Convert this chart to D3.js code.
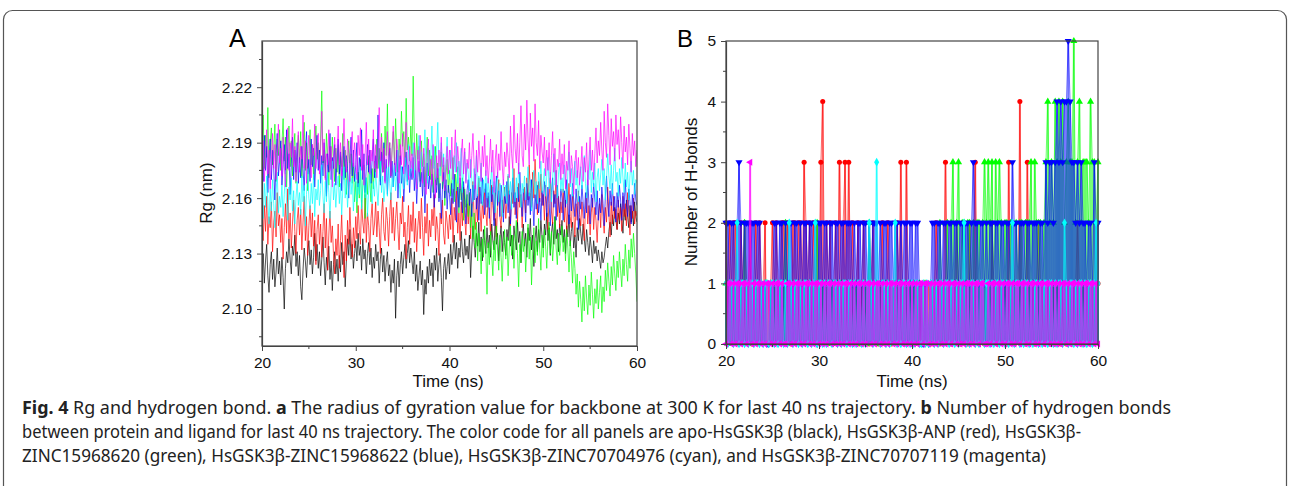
<!DOCTYPE html>
<html>
<head>
<meta charset="utf-8">
<title>Rg and hydrogen bond</title>
<script src="https://cdn.jsdelivr.net/npm/d3@7"></script>
<style>
  body { margin: 0; background: #fff; }
  svg { display: block; }
</style>
</head>
<body>
<div id="chart"></div>
<script>
// ---- data ----
// panel A: Rg (nm), one sample every 0.125 ns from 20 to 60 ns (16 per row = 2 ns)
var rgStart = 20, rgStep = 0.125;
var rgBlack = [
  2.121,2.130,2.114,2.126,2.135,2.118,2.109,2.124,2.131,2.116,2.127,2.112,2.120,2.133,2.119,2.126,
  2.113,2.128,2.117,2.100,2.122,2.131,2.125,2.138,2.127,2.119,2.134,2.129,2.140,2.123,2.131,2.118,
  2.129,2.112,2.105,2.121,2.133,2.126,2.117,2.130,2.137,2.124,2.132,2.119,2.128,2.141,2.126,2.135,
  2.122,2.131,2.118,2.127,2.139,2.125,2.113,2.128,2.121,2.134,2.116,2.126,2.110,2.124,2.131,2.119,
  2.127,2.115,2.129,2.120,2.136,2.124,2.131,2.112,2.126,2.138,2.129,2.143,2.127,2.135,2.122,2.130,
  2.137,2.126,2.141,2.129,2.134,2.121,2.138,2.127,2.132,2.119,2.130,2.136,2.124,2.133,2.117,2.128,
  2.122,2.135,2.126,2.131,2.114,2.127,2.133,2.120,2.129,2.115,2.125,2.131,2.118,2.124,2.109,2.121,
  2.114,2.127,2.095,2.118,2.126,2.112,2.124,2.131,2.119,2.128,2.135,2.122,2.130,2.137,2.125,2.133,
  2.126,2.119,2.131,2.115,2.124,2.110,2.118,2.126,2.113,2.121,2.097,2.116,2.108,2.123,2.114,2.127,
  2.118,2.125,2.112,2.129,2.121,2.133,2.115,2.124,2.130,2.117,2.099,2.122,2.128,2.116,2.123,2.130,
  2.119,2.135,2.124,2.131,2.140,2.127,2.136,2.122,2.133,2.128,2.142,2.131,2.125,2.138,2.129,2.134,
  2.127,2.140,2.117,2.132,2.145,2.136,2.128,2.141,2.134,2.147,2.131,2.139,2.126,2.143,2.137,2.130,
  2.144,2.133,2.140,2.128,2.146,2.137,2.132,2.149,2.135,2.141,2.126,2.138,2.145,2.131,2.142,2.136,
  2.129,2.143,2.137,2.150,2.134,2.140,2.127,2.145,2.138,2.132,2.147,2.136,2.142,2.125,2.139,2.146,
  2.134,2.141,2.128,2.144,2.137,2.149,2.132,2.140,2.123,2.138,2.145,2.131,2.143,2.136,2.148,2.139,
  2.133,2.146,2.140,2.152,2.137,2.144,2.129,2.141,2.147,2.135,2.150,2.138,2.143,2.131,2.146,2.140,
  2.148,2.136,2.143,2.130,2.145,2.139,2.151,2.134,2.142,2.147,2.133,2.140,2.128,2.144,2.137,2.149,
  2.141,2.135,2.146,2.138,2.131,2.143,2.136,2.129,2.139,2.133,2.125,2.137,2.130,2.134,2.126,2.132,
  2.127,2.122,2.131,2.125,2.128,2.134,2.139,2.133,2.142,2.147,2.140,2.151,2.145,2.155,2.148,2.143,
  2.152,2.146,2.157,2.149,2.141,2.154,2.148,2.159,2.150,2.144,2.156,2.147,2.153,2.145,2.158,2.150,
  2.147];
var rgRed = [
  2.148,2.137,2.156,2.142,2.161,2.135,2.150,2.144,2.158,2.131,2.147,2.153,2.139,2.163,2.145,2.151,
  2.136,2.149,2.127,2.144,2.157,2.141,2.165,2.138,2.152,2.133,2.146,2.159,2.142,2.130,2.148,2.155,
  2.140,2.154,2.132,2.147,2.161,2.137,2.150,2.129,2.145,2.156,2.139,2.152,2.134,2.148,2.124,2.143,
  2.151,2.135,2.146,2.128,2.142,2.157,2.133,2.149,2.121,2.140,2.153,2.136,2.145,2.130,2.119,2.138,
  2.129,2.146,2.122,2.137,2.151,2.131,2.117,2.140,2.126,2.148,2.135,2.155,2.139,2.128,2.144,2.133,
  2.150,2.138,2.156,2.143,2.135,2.159,2.147,2.141,2.162,2.136,2.152,2.145,2.131,2.149,2.157,2.140,
  2.146,2.158,2.139,2.153,2.144,2.130,2.151,2.160,2.142,2.137,2.155,2.148,2.134,2.150,2.163,2.141,
  2.155,2.137,2.149,2.158,2.143,2.132,2.152,2.146,2.161,2.139,2.147,2.127,2.144,2.156,2.135,2.151,
  2.142,2.158,2.136,2.149,2.131,2.145,2.153,2.138,2.160,2.144,2.129,2.150,2.141,2.157,2.134,2.148,
  2.139,2.154,2.145,2.162,2.137,2.150,2.143,2.129,2.152,2.146,2.159,2.140,2.135,2.153,2.147,2.138,
  2.151,2.143,2.160,2.136,2.155,2.148,2.164,2.141,2.152,2.137,2.158,2.145,2.166,2.149,2.140,2.157,
  2.146,2.162,2.138,2.155,2.169,2.150,2.143,2.160,2.147,2.171,2.154,2.142,2.158,2.149,2.165,2.152,
  2.145,2.161,2.153,2.140,2.167,2.156,2.148,2.163,2.139,2.155,2.170,2.150,2.144,2.159,2.152,2.166,
  2.149,2.158,2.172,2.154,2.145,2.163,2.157,2.176,2.151,2.160,2.147,2.168,2.155,2.162,2.144,2.158,
  2.166,2.152,2.171,2.159,2.178,2.163,2.155,2.174,2.160,2.181,2.165,2.151,2.169,2.158,2.173,2.156,
  2.162,2.148,2.167,2.155,2.143,2.160,2.171,2.153,2.146,2.164,2.157,2.175,2.150,2.161,2.144,2.158,
  2.152,2.165,2.147,2.159,2.141,2.156,2.168,2.150,2.144,2.162,2.153,2.139,2.157,2.148,2.164,2.151,
  2.145,2.158,2.149,2.137,2.154,2.163,2.146,2.156,2.140,2.152,2.160,2.143,2.155,2.148,2.136,2.151,
  2.157,2.144,2.162,2.150,2.141,2.155,2.147,2.166,2.152,2.139,2.158,2.146,2.161,2.149,2.154,2.143,
  2.159,2.148,2.155,2.142,2.161,2.150,2.157,2.145,2.163,2.152,2.140,2.156,2.149,2.160,2.146,2.153,
  2.150];
var rgGreen = [
  2.188,2.205,2.176,2.194,2.182,2.209,2.171,2.190,2.198,2.178,2.186,2.200,2.169,2.192,2.183,2.197,
  2.175,2.189,2.203,2.180,2.193,2.166,2.185,2.199,2.177,2.191,2.172,2.186,2.195,2.168,2.182,2.194,
  2.179,2.196,2.171,2.187,2.201,2.175,2.190,2.164,2.183,2.197,2.178,2.189,2.170,2.186,2.199,2.181,
  2.190,2.176,2.192,2.218,2.179,2.186,2.171,2.195,2.183,2.167,2.188,2.176,2.193,2.180,2.169,2.187,
  2.174,2.189,2.166,2.183,2.177,2.195,2.170,2.186,2.162,2.180,2.191,2.173,2.184,2.168,2.179,2.158,
  2.169,2.152,2.174,2.160,2.181,2.155,2.166,2.178,2.149,2.171,2.162,2.183,2.168,2.158,2.176,2.165,
  2.180,2.171,2.192,2.176,2.187,2.169,2.195,2.181,2.174,2.199,2.183,2.211,2.178,2.190,2.172,2.186,
  2.196,2.179,2.203,2.185,2.174,2.192,2.181,2.207,2.188,2.196,2.177,2.214,2.186,2.193,2.180,2.199,
  2.183,2.226,2.190,2.174,2.195,2.181,2.188,2.169,2.191,2.177,2.184,2.166,2.180,2.193,2.172,2.186,
  2.170,2.183,2.163,2.177,2.188,2.167,2.179,2.160,2.174,2.185,2.165,2.178,2.156,2.172,2.181,2.163,
  2.175,2.161,2.170,2.182,2.158,2.173,2.164,2.177,2.152,2.168,2.159,2.171,2.148,2.165,2.155,2.162,
  2.150,2.163,2.144,2.157,2.138,2.152,2.133,2.147,2.126,2.141,2.135,2.119,2.138,2.128,2.145,2.131,
  2.108,2.136,2.124,2.142,2.129,2.118,2.137,2.126,2.145,2.132,2.121,2.140,2.128,2.115,2.134,2.143,
  2.127,2.139,2.118,2.133,2.145,2.129,2.140,2.122,2.136,2.148,2.130,2.112,2.135,2.125,2.142,2.131,
  2.138,2.120,2.133,2.146,2.127,2.139,2.113,2.131,2.144,2.125,2.137,2.129,2.149,2.132,2.121,2.140,
  2.128,2.143,2.134,2.122,2.139,2.147,2.130,2.142,2.126,2.136,2.150,2.133,2.124,2.141,2.129,2.137,
  2.145,2.131,2.139,2.126,2.143,2.133,2.120,2.137,2.128,2.114,2.131,2.122,2.108,2.119,2.101,2.115,
  2.105,2.093,2.112,2.099,2.118,2.106,2.097,2.113,2.102,2.120,2.108,2.095,2.111,2.103,2.116,2.100,
  2.109,2.118,2.098,2.112,2.104,2.121,2.110,2.125,2.115,2.107,2.123,2.113,2.129,2.119,2.110,2.126,
  2.117,2.131,2.121,2.112,2.127,2.118,2.135,2.124,2.115,2.132,2.122,2.138,2.128,2.141,2.130,2.119,
  2.104];
var rgBlue = [
  2.183,2.169,2.194,2.175,2.188,2.163,2.181,2.192,2.170,2.186,2.176,2.159,2.184,2.195,2.172,2.180,
  2.191,2.167,2.178,2.189,2.173,2.197,2.176,2.184,2.162,2.179,2.193,2.170,2.186,2.174,2.190,2.168,
  2.182,2.171,2.188,2.176,2.164,2.185,2.196,2.173,2.181,2.169,2.192,2.177,2.187,2.166,2.180,2.194,
  2.175,2.186,2.168,2.183,2.172,2.190,2.179,2.161,2.184,2.174,2.195,2.170,2.182,2.176,2.189,2.167,
  2.180,2.192,2.173,2.185,2.164,2.179,2.188,2.171,2.183,2.176,2.160,2.181,2.193,2.172,2.186,2.169,
  2.178,2.190,2.166,2.182,2.175,2.197,2.170,2.184,2.163,2.177,2.189,2.174,2.186,2.168,2.181,2.192,
  2.171,2.183,2.176,2.205,2.179,2.167,2.185,2.174,2.190,2.169,2.181,2.162,2.178,2.187,2.171,2.180,
  2.166,2.179,2.172,2.186,2.160,2.175,2.183,2.168,2.177,2.158,2.172,2.185,2.169,2.178,2.163,2.176,
  2.170,2.182,2.164,2.175,2.157,2.171,2.180,2.166,2.174,2.161,2.177,2.152,2.169,2.179,2.165,2.172,
  2.160,2.173,2.166,2.155,2.171,2.163,2.176,2.158,2.168,2.149,2.165,2.174,2.160,2.170,2.154,2.167,
  2.162,2.151,2.168,2.157,2.173,2.160,2.147,2.166,2.155,2.171,2.163,2.152,2.169,2.158,2.146,2.164,
  2.170,2.156,2.165,2.150,2.167,2.159,2.173,2.154,2.162,2.148,2.166,2.157,2.171,2.160,2.151,2.168,
  2.155,2.163,2.149,2.170,2.158,2.166,2.145,2.161,2.172,2.156,2.164,2.150,2.167,2.159,2.147,2.162,
  2.157,2.169,2.152,2.164,2.146,2.160,2.171,2.155,2.163,2.149,2.166,2.158,2.174,2.161,2.150,2.165,
  2.159,2.147,2.168,2.156,2.163,2.151,2.170,2.158,2.145,2.162,2.154,2.167,2.152,2.160,2.148,2.164,
  2.156,2.169,2.161,2.150,2.166,2.157,2.145,2.163,2.171,2.155,2.162,2.148,2.167,2.158,2.152,2.165,
  2.160,2.148,2.164,2.155,2.170,2.157,2.146,2.162,2.153,2.168,2.159,2.150,2.165,2.156,2.143,2.161,
  2.154,2.167,2.158,2.149,2.163,2.152,2.170,2.157,2.146,2.162,2.155,2.168,2.159,2.151,2.164,2.148,
  2.160,2.152,2.166,2.157,2.145,2.161,2.172,2.158,2.150,2.164,2.156,2.168,2.153,2.161,2.147,2.163,
  2.155,2.167,2.159,2.148,2.163,2.154,2.170,2.157,2.150,2.165,2.158,2.146,2.162,2.153,2.168,2.159,
  2.156];
var rgCyan = [
  2.160,2.149,2.168,2.155,2.172,2.158,2.146,2.165,2.153,2.170,2.157,2.144,2.163,2.174,2.152,2.161,
  2.155,2.167,2.150,2.162,2.175,2.157,2.148,2.166,2.159,2.171,2.153,2.164,2.146,2.160,2.169,2.156,
  2.163,2.151,2.172,2.158,2.167,2.145,2.162,2.176,2.160,2.154,2.168,2.157,2.173,2.150,2.165,2.159,
  2.170,2.156,2.164,2.178,2.161,2.152,2.169,2.158,2.174,2.163,2.149,2.166,2.180,2.159,2.168,2.155,
  2.166,2.172,2.157,2.168,2.151,2.165,2.177,2.160,2.170,2.155,2.167,2.179,2.162,2.171,2.153,2.164,
  2.173,2.158,2.168,2.162,2.177,2.154,2.166,2.175,2.160,2.171,2.150,2.164,2.178,2.163,2.157,2.169,
  2.161,2.174,2.165,2.156,2.170,2.181,2.163,2.172,2.158,2.167,2.176,2.161,2.183,2.168,2.159,2.171,
  2.166,2.178,2.164,2.173,2.186,2.169,2.160,2.177,2.171,2.165,2.182,2.174,2.167,2.189,2.172,2.180,
  2.175,2.190,2.171,2.183,2.166,2.179,2.194,2.176,2.185,2.170,2.181,2.197,2.178,2.168,2.187,2.174,
  2.182,2.199,2.176,2.188,2.170,2.185,2.201,2.179,2.172,2.190,2.177,2.184,2.167,2.181,2.193,2.175,
  2.170,2.186,2.178,2.165,2.183,2.174,2.190,2.168,2.180,2.172,2.187,2.163,2.177,2.185,2.169,2.179,
  2.173,2.164,2.181,2.170,2.158,2.176,2.167,2.183,2.161,2.172,2.166,2.179,2.156,2.170,2.163,2.175,
  2.160,2.171,2.155,2.167,2.177,2.162,2.169,2.152,2.166,2.174,2.158,2.168,2.163,2.150,2.170,2.161,
  2.167,2.157,2.173,2.162,2.169,2.154,2.176,2.164,2.158,2.171,2.160,2.179,2.165,2.155,2.168,2.163,
  2.172,2.159,2.166,2.177,2.161,2.170,2.153,2.168,2.175,2.162,2.169,2.157,2.174,2.165,2.180,2.163,
  2.168,2.176,2.161,2.172,2.182,2.165,2.174,2.158,2.170,2.184,2.167,2.175,2.160,2.173,2.179,2.164,
  2.171,2.163,2.178,2.168,2.157,2.174,2.185,2.166,2.176,2.161,2.172,2.180,2.167,2.175,2.158,2.170,
  2.177,2.165,2.172,2.183,2.168,2.160,2.175,2.170,2.186,2.163,2.174,2.166,2.179,2.158,2.171,2.176,
  2.164,2.173,2.181,2.167,2.176,2.159,2.170,2.184,2.172,2.165,2.178,2.162,2.175,2.187,2.169,2.174,
  2.161,2.176,2.168,2.182,2.171,2.163,2.179,2.166,2.174,2.159,2.172,2.180,2.167,2.175,2.162,2.170,
  2.168];
var rgMagenta = [
  2.178,2.191,2.169,2.184,2.197,2.173,2.186,2.165,2.180,2.195,2.176,2.189,2.170,2.183,2.200,2.179,
  2.187,2.172,2.193,2.178,2.166,2.185,2.198,2.175,2.190,2.182,2.203,2.177,2.188,2.169,2.184,2.196,
  2.174,2.188,2.181,2.205,2.176,2.191,2.168,2.185,2.194,2.179,2.171,2.189,2.183,2.200,2.176,2.187,
  2.195,2.173,2.186,2.207,2.180,2.192,2.170,2.184,2.178,2.197,2.175,2.188,2.166,2.182,2.193,2.176,
  2.185,2.199,2.178,2.190,2.172,2.186,2.203,2.181,2.174,2.192,2.184,2.169,2.188,2.196,2.177,2.190,
  2.182,2.170,2.194,2.183,2.198,2.175,2.189,2.167,2.184,2.201,2.178,2.192,2.173,2.186,2.180,2.197,
  2.176,2.189,2.171,2.185,2.209,2.180,2.193,2.174,2.187,2.168,2.183,2.196,2.177,2.190,2.172,2.186,
  2.199,2.181,2.174,2.192,2.185,2.168,2.189,2.178,2.195,2.173,2.186,2.201,2.180,2.170,2.188,2.176,
  2.184,2.171,2.190,2.179,2.165,2.186,2.174,2.194,2.180,2.168,2.187,2.176,2.162,2.183,2.192,2.172,
  2.181,2.167,2.189,2.175,2.160,2.183,2.171,2.186,2.177,2.193,2.169,2.182,2.164,2.178,2.188,2.173,
  2.186,2.176,2.193,2.170,2.182,2.197,2.174,2.188,2.179,2.165,2.184,2.192,2.173,2.187,2.168,2.181,
  2.176,2.190,2.171,2.183,2.195,2.178,2.165,2.186,2.174,2.191,2.180,2.169,2.188,2.177,2.194,2.172,
  2.183,2.168,2.179,2.192,2.174,2.186,2.163,2.180,2.189,2.171,2.184,2.175,2.196,2.178,2.167,2.185,
  2.177,2.190,2.182,2.171,2.199,2.184,2.176,2.205,2.187,2.179,2.195,2.173,2.190,2.210,2.183,2.177,
  2.200,2.186,2.213,2.192,2.178,2.206,2.188,2.198,2.180,2.211,2.190,2.183,2.202,2.176,2.194,2.185,
  2.179,2.193,2.172,2.186,2.175,2.190,2.168,2.183,2.196,2.174,2.187,2.166,2.181,2.177,2.192,2.170,
  2.184,2.173,2.189,2.165,2.180,2.175,2.191,2.168,2.183,2.177,2.162,2.179,2.186,2.171,2.182,2.167,
  2.176,2.188,2.169,2.182,2.174,2.190,2.167,2.181,2.193,2.175,2.186,2.170,2.184,2.198,2.179,2.191,
  2.183,2.201,2.186,2.175,2.207,2.190,2.182,2.211,2.194,2.178,2.203,2.188,2.196,2.180,2.205,2.189,
  2.197,2.181,2.204,2.190,2.176,2.199,2.185,2.193,2.178,2.200,2.187,2.174,2.195,2.183,2.191,2.177,
  2.186];

// panel B: number of H-bonds, one sample every 0.2 ns from 20 to 60 ns (20 per row = 4 ns)
var hbStart = 20, hbStep = 0.2;
var hbRed = [2,1,2,1,2,2,1,0,2,1,2,1,1,2,0,1,2,1,2,1,
  1,2,0,1,1,2,1,2,1,1,2,2,1,2,1,0,2,2,1,2,
  2,1,3,2,1,2,1,2,1,2,1,3,4,1,2,1,2,0,1,2,
  1,3,1,2,3,1,3,1,2,1,1,2,0,1,2,1,1,0,1,2,
  1,1,0,1,2,1,1,2,1,0,1,1,2,1,3,1,0,3,1,1,
  1,0,1,1,0,0,1,0,1,1,0,1,1,2,1,0,1,1,3,1,
  1,0,1,1,2,1,0,1,1,1,0,2,1,1,3,1,0,1,1,0,
  1,1,0,2,1,1,0,1,1,1,1,0,3,1,1,0,1,1,4,1,
  1,0,3,1,1,1,0,1,2,1,1,0,1,1,0,1,1,0,1,1,
  0,1,1,0,1,1,0,1,1,2,1,0,1,1,0,1,1,0,1,1,1];
var hbGreen = [1,0,1,1,0,1,0,1,1,0,2,1,0,1,1,0,1,0,1,1,
  0,1,1,0,1,0,1,1,0,1,0,1,2,0,1,1,0,1,0,1,
  1,0,1,0,1,1,0,1,0,2,1,0,1,1,0,1,0,1,1,0,
  1,0,1,1,0,1,0,1,0,1,1,0,1,0,1,1,0,2,1,0,
  0,1,1,0,1,0,1,1,0,1,0,1,0,1,1,0,1,0,1,1,
  0,1,0,1,1,0,0,1,0,0,1,1,0,1,1,2,1,0,1,2,
  1,2,3,1,2,3,1,2,2,1,2,2,1,2,1,2,2,1,2,3,
  2,3,2,3,1,3,2,3,2,1,2,2,1,2,2,1,2,1,2,2,
  1,2,2,2,3,1,3,2,2,2,1,2,3,4,2,3,2,4,3,4,
  3,4,2,3,4,3,3,5,2,3,4,2,3,3,3,2,4,3,3,2,3];
var hbBlue = [2,2,1,2,2,1,2,3,2,1,2,2,2,1,2,2,1,2,2,1,
  1,1,0,0,1,1,2,2,1,2,2,1,2,1,2,2,1,2,2,1,
  2,1,2,2,1,2,2,1,2,0,2,2,1,2,2,1,2,2,1,2,
  2,1,2,2,1,2,2,2,1,2,1,2,2,1,2,2,1,2,1,2,
  2,2,1,2,1,2,2,1,2,2,1,2,2,1,2,1,2,2,1,2,
  2,1,2,2,1,1,0,1,1,0,1,2,2,1,2,2,1,2,2,1,
  2,2,1,2,2,1,2,2,1,2,2,1,2,3,2,2,1,2,2,1,
  2,1,2,2,1,2,2,1,2,2,1,2,2,1,3,2,2,1,2,2,
  2,1,2,2,1,2,2,2,1,2,2,1,3,2,3,3,2,3,4,3,
  4,3,4,4,5,4,3,3,2,3,2,3,2,2,1,2,2,1,3,2,2];
var hbCyan = [1,0,1,1,0,1,2,0,1,1,0,1,0,1,1,0,1,1,0,1,
  0,1,1,0,1,1,0,1,0,1,1,0,1,0,2,1,0,1,1,0,
  1,0,1,1,0,1,0,1,2,0,1,1,0,1,0,1,1,0,1,1,
  0,1,0,1,1,0,1,1,0,1,0,1,1,0,1,0,1,2,1,0,
  1,3,1,0,1,1,0,1,0,1,1,2,0,1,0,1,1,0,1,0,
  1,0,1,1,0,0,1,0,1,0,1,1,0,1,0,1,1,0,1,1,
  0,1,1,0,1,0,1,1,2,0,1,0,1,1,0,1,0,1,1,0,
  1,1,0,1,0,1,1,0,1,1,0,1,0,1,2,0,1,1,0,1,
  0,1,1,0,1,0,1,1,0,1,0,1,1,0,1,1,0,1,0,1,
  1,0,2,1,0,1,1,0,1,0,1,1,0,1,0,1,1,0,1,2,1];
var hbMagenta = [0,1,1,0,1,0,1,1,0,1,1,0,1,3,0,1,0,1,1,0,
  1,0,1,1,0,1,0,1,1,0,1,0,0,1,1,0,1,0,1,1,
  0,1,0,1,1,0,1,0,1,1,0,1,0,1,0,1,1,0,1,0,
  1,0,1,0,1,1,0,1,0,1,0,1,1,0,1,0,1,1,0,1,
  0,1,1,0,1,0,1,0,1,1,0,1,0,1,1,0,1,0,1,0,
  1,0,1,0,1,1,0,1,1,0,1,0,1,0,1,1,0,1,0,1,
  1,0,1,1,0,1,0,1,0,1,1,0,1,0,1,1,0,1,1,0,
  0,1,0,1,1,0,1,1,0,1,0,1,1,0,1,0,1,1,0,1,
  1,0,1,0,1,1,0,1,0,1,1,0,1,1,0,1,0,1,0,1,
  0,1,1,0,1,0,1,1,0,1,0,1,0,1,1,0,1,1,0,1,0];

var rgTicks = [2.10, 2.13, 2.16, 2.19, 2.22];
var hbTicks = [0, 1, 2, 3, 4, 5];
var timeTicks = [20, 30, 40, 50, 60];

var captionLines = [
  [["Fig. 4", true], [" Rg and hydrogen bond. ", false], ["a", true], [" The radius of gyration value for backbone at 300 K for last 40 ns trajectory. ", false], ["b", true], [" Number of hydrogen bonds", false]],
  [["between protein and ligand for last 40 ns trajectory. The color code for all panels are apo-HsGSK3\u03b2 (black), HsGSK3\u03b2-ANP (red), HsGSK3\u03b2-", false]],
  [["ZINC15968620 (green), HsGSK3\u03b2-ZINC15968622 (blue), HsGSK3\u03b2-ZINC70704976 (cyan), and HsGSK3\u03b2-ZINC70707119 (magenta)", false]]
];
var captionWidths = [1149, 1059, 1024];

// ---- canvas ----
var w = 1290, h = 486;
var font = "'Liberation Sans', Arial, sans-serif";
var svg = d3.select("#chart").append("svg")
  .attr("width", w).attr("height", h);

// rounded figure frame
svg.append("rect")
  .attr("x", 3.5).attr("y", 10.5)
  .attr("width", 1283).attr("height", 500)
  .attr("rx", 9)
  .attr("fill", "none").attr("stroke", "#555").attr("stroke-width", 1.2);

// Origin-like axes: outward ticks, minor ticks at midpoints, plain top/right edges
function drawFrame(g, x, y, xTicks, yTicks, yFmt, minorY) {
  var x0 = x.range()[0], x1 = x.range()[1];
  var y0 = y.range()[0], y1 = y.range()[1];
  g.append("rect")
    .attr("x", x0).attr("y", y1)
    .attr("width", x1 - x0).attr("height", y0 - y1)
    .attr("fill", "none").attr("stroke", "#444").attr("stroke-width", 1.2);

  var xAxis = d3.axisBottom(x).tickValues(xTicks).tickSize(5).tickSizeOuter(0).tickFormat(d3.format("d"));
  var gx = g.append("g").attr("transform", "translate(0," + y0 + ")").call(xAxis);
  var minorX = xTicks.slice(0, -1).map(function (d, i) { return (d + xTicks[i + 1]) / 2; });
  gx.selectAll(".minor").data(minorX).enter().append("line")
    .attr("x1", function (d) { return x(d); }).attr("x2", function (d) { return x(d); })
    .attr("y1", 0).attr("y2", 3).attr("stroke", "#444");

  var yAxis = d3.axisLeft(y).tickValues(yTicks).tickSize(5).tickPadding(5).tickSizeOuter(0).tickFormat(yFmt);
  var gy = g.append("g").attr("transform", "translate(" + x0 + ",0)").call(yAxis);
  gy.selectAll(".minor").data(minorY).enter().append("line")
    .attr("y1", function (d) { return y(d); }).attr("y2", function (d) { return y(d); })
    .attr("x1", 0).attr("x2", -3).attr("stroke", "#444");

  [gx, gy].forEach(function (a) {
    a.select(".domain").attr("stroke", "#444").attr("stroke-width", 1.2);
    a.selectAll(".tick line").attr("stroke", "#444");
    a.selectAll("text").attr("font-family", font).attr("font-size", 15.5).attr("fill", "#111");
  });
  gx.selectAll(".tick text").attr("dy", "0.9em");
}

var colors = { black: "#000000", red: "#ff0000", green: "#00ff00", blue: "#0000ff", cyan: "#00ffff", magenta: "#ff00ff" };

// ---- panel A ----
var xA = d3.scaleLinear().domain([20, 60]).range([262, 637]);
var yA = d3.scaleLinear().domain([2.08, 2.245]).range([346, 41]);
var gA = svg.append("g");

svg.append("defs").append("clipPath").attr("id", "clipA")
  .append("rect").attr("x", 262).attr("y", 41).attr("width", 375).attr("height", 305);

var rgSeries = [
  ["black", rgBlack], ["red", rgRed], ["green", rgGreen],
  ["blue", rgBlue], ["cyan", rgCyan], ["magenta", rgMagenta]
];
var lineA = d3.line()
  .x(function (d, i) { return xA(rgStart + i * rgStep); })
  .y(function (d) { return yA(d); });
var plotA = gA.append("g").attr("clip-path", "url(#clipA)");
plotA.selectAll("path.rg").data(rgSeries).enter().append("path")
  .attr("class", "rg")
  .attr("d", function (d) { return lineA(d[1]); })
  .attr("fill", "none")
  .attr("stroke", function (d) { return colors[d[0]]; })
  .attr("stroke-width", 0.8)
  .attr("stroke-opacity", 0.85);

drawFrame(gA, xA, yA, timeTicks, rgTicks, d3.format(".2f"), [2.085, 2.115, 2.145, 2.175, 2.205, 2.235]);

gA.append("text").text("A")
  .attr("x", 229).attr("y", 47)
  .attr("font-family", font).attr("font-size", 25).attr("fill", "#000");
gA.append("text").text("Time (ns)")
  .attr("x", 448).attr("y", 387).attr("text-anchor", "middle")
  .attr("font-family", font).attr("font-size", 17).attr("fill", "#111");
gA.append("text").text("Rg (nm)")
  .attr("transform", "translate(212,193) rotate(-90)").attr("text-anchor", "middle")
  .attr("font-family", font).attr("font-size", 17).attr("fill", "#111");

// ---- panel B ----
var xB = d3.scaleLinear().domain([20, 60]).range([726, 1098]);
var yB = d3.scaleLinear().domain([0, 5]).range([344, 41]);
var gB = svg.append("g");

var hbSeries = [
  ["red", hbRed, d3.symbolCircle, 0, 20],
  ["green", hbGreen, d3.symbolTriangle, 0, 22],
  ["blue", hbBlue, d3.symbolTriangle, 180, 22],
  ["cyan", hbCyan, d3.symbolDiamond, 0, 22],
  ["magenta", hbMagenta, d3.symbolTriangle, -90, 22]
];
var lineB = d3.line()
  .x(function (d, i) { return xB(hbStart + i * hbStep); })
  .y(function (d) { return yB(d); });

hbSeries.forEach(function (s) {
  var c = colors[s[0]];
  var sg = gB.append("g");
  // drop lines to zero
  sg.selectAll("line").data(s[1]).enter().append("line")
    .attr("x1", function (d, i) { return xB(hbStart + i * hbStep); })
    .attr("x2", function (d, i) { return xB(hbStart + i * hbStep); })
    .attr("y1", function (d) { return yB(d); })
    .attr("y2", yB(0))
    .attr("stroke", c).attr("stroke-width", 2).attr("stroke-opacity", 0.55);
  // connecting line
  sg.append("path").attr("d", lineB(s[1]))
    .attr("fill", "none").attr("stroke", c)
    .attr("stroke-width", 0.8).attr("stroke-opacity", 0.65);
  // symbols
  var sym = d3.symbol().type(s[2]).size(s[4]);
  sg.selectAll("path.sym").data(s[1]).enter().append("path")
    .attr("class", "sym")
    .attr("d", sym)
    .attr("transform", function (d, i) {
      return "translate(" + xB(hbStart + i * hbStep) + "," + yB(d) + ") rotate(" + s[3] + ")";
    })
    .attr("fill", c);
});

drawFrame(gB, xB, yB, timeTicks, hbTicks, d3.format("d"), [0.5, 1.5, 2.5, 3.5, 4.5]);

gB.append("text").text("B")
  .attr("x", 677).attr("y", 47)
  .attr("font-family", font).attr("font-size", 24).attr("fill", "#000");
gB.append("text").text("Time (ns)")
  .attr("x", 912).attr("y", 387).attr("text-anchor", "middle")
  .attr("font-family", font).attr("font-size", 17).attr("fill", "#111");
gB.append("text").text("Number of H-bonds")
  .attr("transform", "translate(697,192) rotate(-90)").attr("text-anchor", "middle")
  .attr("font-family", font).attr("font-size", 17).attr("fill", "#111");

// ---- caption ----
var cap = svg.append("g")
  .attr("font-family", "'Noto Sans', 'Open Sans', sans-serif")
  .attr("font-size", 17.5).attr("fill", "#222");
captionLines.forEach(function (parts, li) {
  var t = cap.append("text")
    .attr("x", 22).attr("y", 414 + li * 24)
    .attr("textLength", captionWidths[li])
    .attr("lengthAdjust", "spacingAndGlyphs");
  parts.forEach(function (p) {
    t.append("tspan").text(p[0]).attr("font-weight", p[1] ? "bold" : "normal");
  });
});
</script>
</body>
</html>
